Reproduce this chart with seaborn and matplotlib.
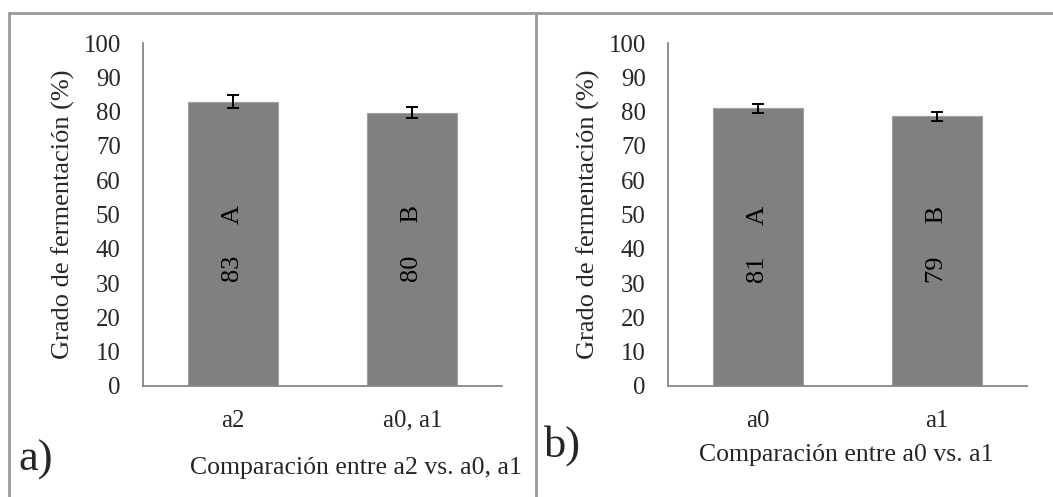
import matplotlib
matplotlib.use("Agg")
import matplotlib.pyplot as plt
from matplotlib.lines import Line2D
import seaborn as sns
import pandas as pd
import numpy as np

# ---- data ----
cats_a = ["a2", "a0, a1"]
vals_a = [82.9, 79.7]
err_a = [1.8, 1.55]
labels_a = ["83     A", "80     B"]

cats_b = ["a0", "a1"]
vals_b = [81.0, 78.6]
err_b = [1.35, 1.35]
labels_b = ["81     A", "79     B"]

ylabel = "Grado de fermentación (%)"
xlabel_a = "Comparación entre a2 vs. a0, a1"
xlabel_b = "Comparación entre a0 vs. a1"

sns.set_style("white")
plt.rcParams["font.family"] = ["Liberation Serif", "DejaVu Serif"]

W, H = 1053, 497
fig = plt.figure(figsize=(W / 100, H / 100), dpi=100)

AX_COLOR = "#868686"
BAR_COLOR = "#808080"


def px_rect(x0, x1, ytop, ybot):
    return [x0 / W, 1 - ybot / H, (x1 - x0) / W, (ybot - ytop) / H]


def panel(rect, cats, vals, errs, labels, xlabel, xlabel_xy, letter, letter_xy):
    ax = fig.add_axes(rect)
    df = pd.DataFrame({"cat": cats, "val": vals})
    sns.barplot(data=df, x="cat", y="val", color=BAR_COLOR, saturation=1,
                width=0.5, errorbar=None, ax=ax, edgecolor="#a0a0a0", linewidth=0.8)
    ax.errorbar(range(len(cats)), vals, yerr=errs, fmt="none", ecolor="black",
                elinewidth=1.4, capsize=4.3, capthick=1.4, zorder=5)
    for i, t in enumerate(labels):
        ax.text(i, 41.4, t, rotation=90, ha="center", va="center",
                fontsize=19, color="black")
    ax.set_ylim(0, 100)
    ax.set_xlim(-0.5, len(cats) - 0.5)
    ax.set_yticks(np.arange(0, 101, 10))
    ax.set_xticks([-0.5, 0.5, 1.5])
    ax.set_xticklabels([])
    ax.set_xticks(range(len(cats)), minor=True)
    ax.set_xticklabels(cats, minor=True, fontsize=17.8)
    ax.tick_params(axis="x", which="minor", length=0, pad=17)
    ax.tick_params(axis="x", which="major", length=5.8, width=1.2, color=AX_COLOR, direction="out")
    ax.tick_params(axis="y", length=5, width=1.2, color=AX_COLOR, direction="out",
                   labelsize=17.8, pad=11)
    for s in ["top", "right"]:
        ax.spines[s].set_visible(False)
    for s in ["left", "bottom"]:
        ax.spines[s].set_color(AX_COLOR)
        ax.spines[s].set_linewidth(1.3)
    ax.set_xlabel("")
    ax.set_ylabel(ylabel, fontsize=19, labelpad=6)
    fig.text(xlabel_xy[0] / W, 1 - xlabel_xy[1] / H, xlabel, ha="center", va="center",
             fontsize=18.5)
    fig.text(letter_xy[0] / W, 1 - letter_xy[1] / H, letter, ha="left", va="center", fontsize=32)
    return ax


panel(px_rect(143, 502, 43, 386), cats_a, vals_a, err_a, labels_a,
      xlabel_a, (356, 468), "a)", (18, 460))
panel(px_rect(668, 1027, 43, 386), cats_b, vals_b, err_b, labels_b,
      xlabel_b, (846, 455), "b)", (544, 446))

# outer frame lines
BORDER = "#999999"
fig.add_artist(Line2D([9 / W, 1.0], [1 - 13 / H, 1 - 13 / H], color=BORDER, lw=2,
                      transform=fig.transFigure))
fig.add_artist(Line2D([9 / W, 9 / W], [0, 1 - 13 / H], color=BORDER, lw=2,
                      transform=fig.transFigure))
fig.add_artist(Line2D([536 / W, 536 / W], [0, 1 - 13 / H], color=BORDER, lw=2,
                      transform=fig.transFigure))

fig.savefig("out.png", dpi=100)
